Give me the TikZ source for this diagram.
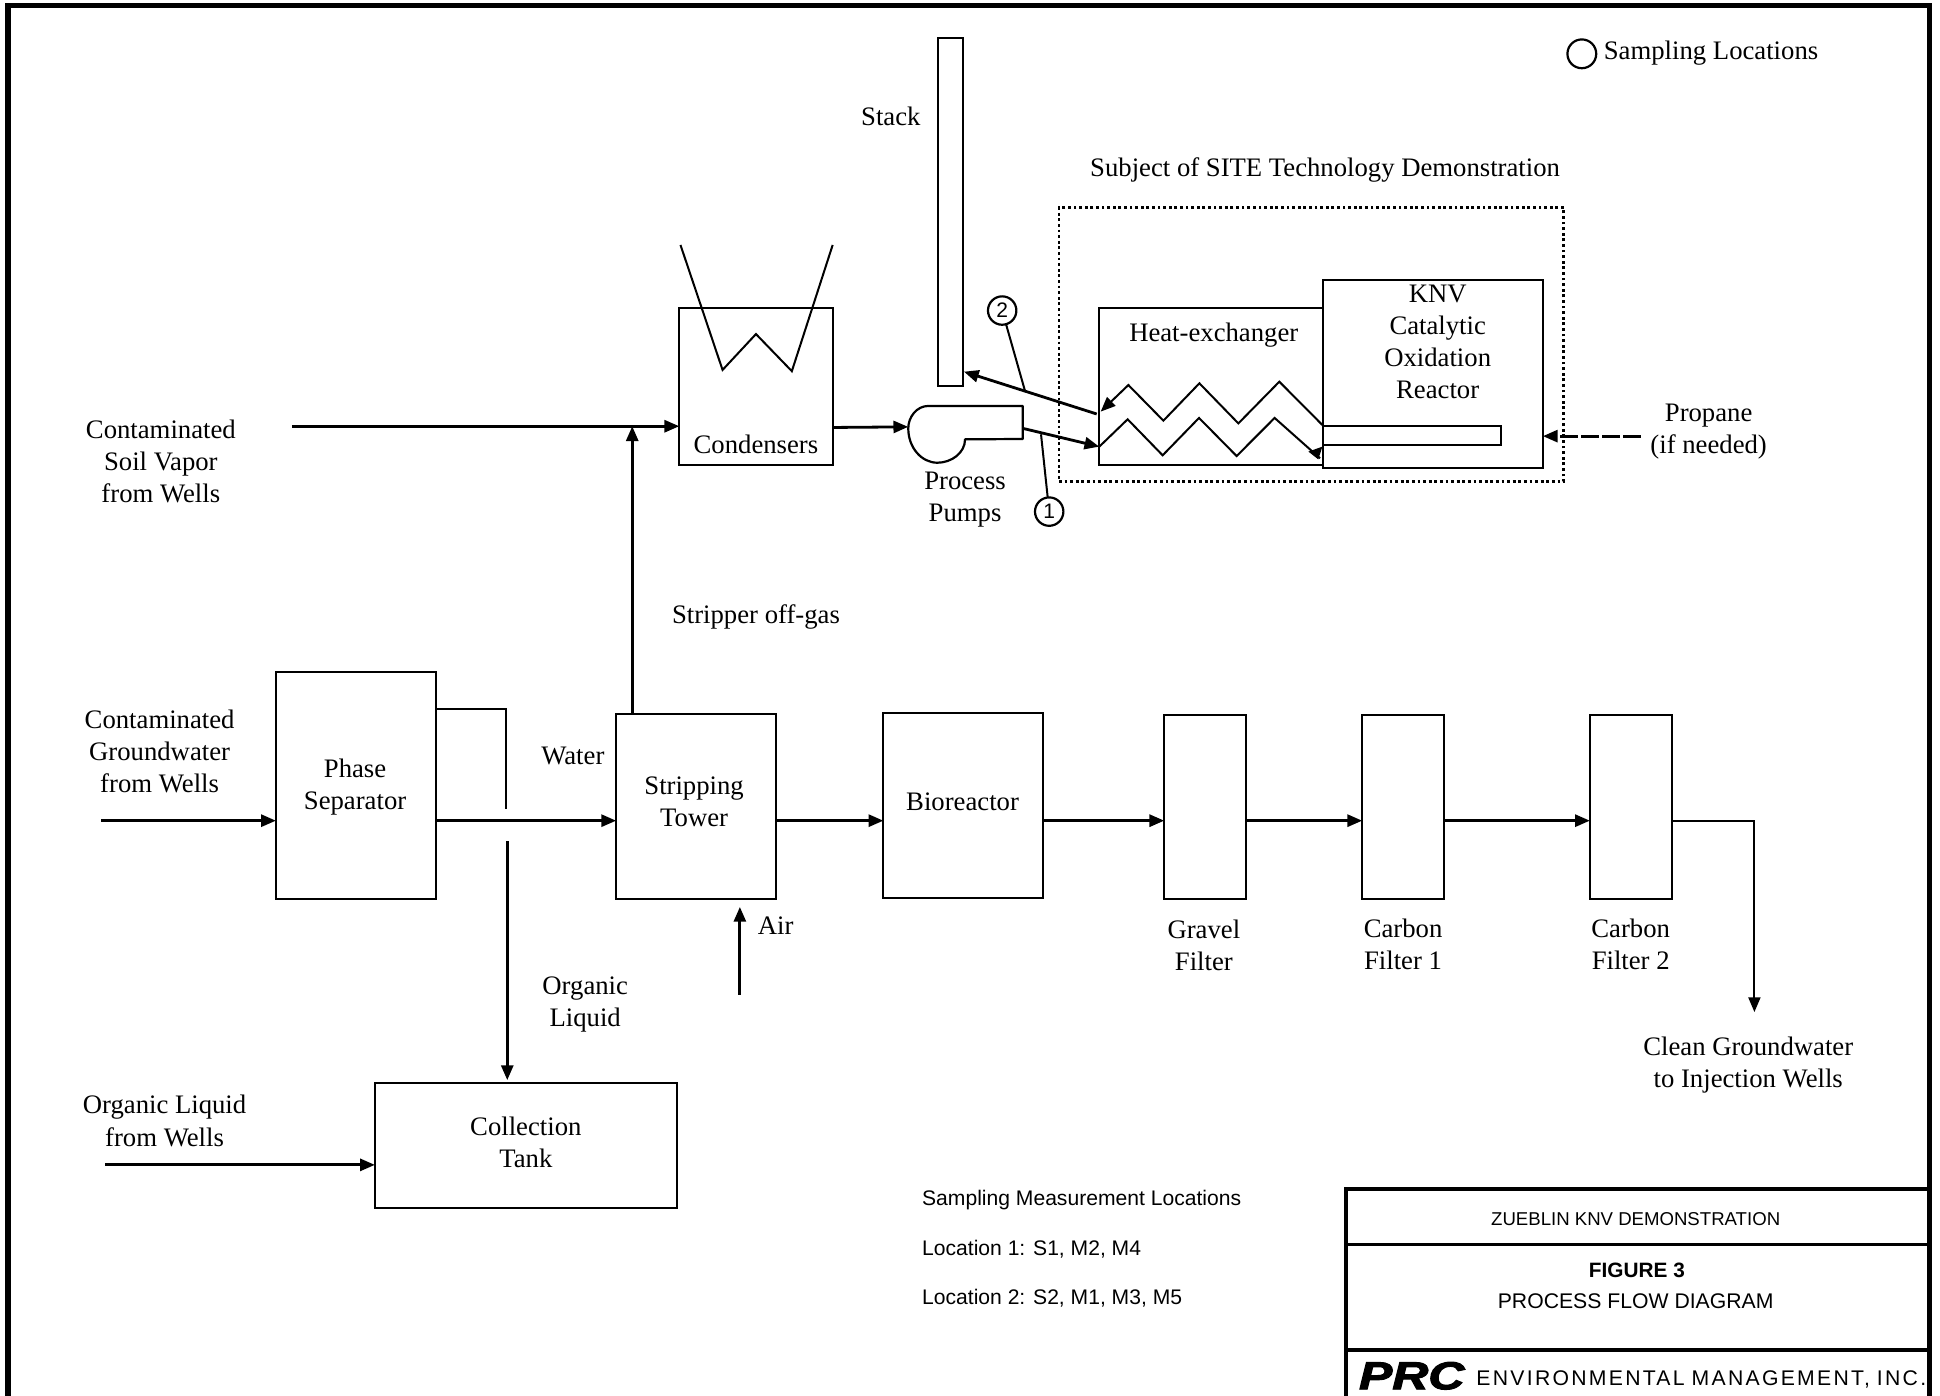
\documentclass[tikz,border=0pt]{standalone}
\usepackage{fontspec}
\setmainfont{Liberation Serif}
\setsansfont{Liberation Sans}
\newfontfamily\prcfont[FakeBold=2.5]{Liberation Sans}
\usetikzlibrary{arrows.meta,fit}
\tikzset{
  x=0.6186pt,y=-0.6186pt,
  boxn/.style={draw,line width=1pt,inner sep=0pt,outer sep=0pt,rectangle},
  lbl/.style={inner sep=0pt,align=center,font=\fontsize{13.35}{16.08}\selectfont},
  sfl/.style={inner sep=0pt,anchor=west,font=\sffamily\fontsize{10.55}{12}\selectfont},
  ttl/.style={inner sep=0pt,font=\sffamily\fontsize{9.3}{12}\selectfont},
  flow/.style={line width=1.4pt,-{Triangle[length=7.4pt,width=6pt]}},
  thinflow/.style={line width=1pt,-{Triangle[length=7.4pt,width=6pt]}},
  wire/.style={line width=1pt},
  coil/.style={line width=1pt,line join=miter},
  tag/.style={draw,circle,line width=1.1pt,minimum size=14.2pt,inner sep=0pt,outer sep=0pt,font=\sffamily\fontsize{10.5}{12}\selectfont},
  frameline/.style={line width=2.6pt}
}
\begin{document}
\begin{tikzpicture}
\useasboundingbox (0,0) rectangle (1568,1128);
% frame
\coordinate (fTL) at (6.5,4.5);
\coordinate (fTR) at (1559.5,4.5);
\coordinate (fBL) at (6.5,1135);
\coordinate (fBR) at (1559.5,1135);
\draw[frameline] (fBL) -- (fTL) -- (fTR) -- (fBR);
% title block
\coordinate (tTL) at (1088,961);
\coordinate (tBL) at (1088,1135);
\coordinate (tR) at (1559,961);
\draw[line width=2.2pt] (tBL) -- (tTL) -- (tR);
\coordinate (t2L) at (1088,1006);\coordinate (t2R) at (1559,1006);
\coordinate (t3L) at (1088,1091);\coordinate (t3R) at (1559,1091);
\draw[line width=1.7pt] (t2L) -- (t2R);
\draw[line width=1.7pt] (t3L) -- (t3R);
\node[ttl] (zd) at (1322,985) {ZUEBLIN KNV DEMONSTRATION};
\node[ttl,font=\sffamily\bfseries\fontsize{10.4}{12}\selectfont] (fig) at (1323,1027) {FIGURE 3};
\node[ttl,font=\sffamily\fontsize{10.6}{12}\selectfont] (pfd) at (1322,1052) {PROCESS FLOW DIAGRAM};
\node[inner sep=0pt,anchor=west,font=\sffamily\fontsize{10.6}{12}\selectfont,text width=230pt,align=left] (emi) at (1193,1115) {\addfontfeature{LetterSpace=10.7}ENVIRONMENTAL MANAGEMENT, INC.};
\node[inner sep=0pt] (prc) at (1141,1112) {\scalebox{1.28}[1]{\prcfont\bfseries\itshape\fontsize{19.5}{20}\selectfont PRC}};
% boxes
\node[boxn,fit={(758,31)(778,312)}] (stack) {};
\node[boxn,fit={(549,249)(673,376)}] (cond) {};
\node[boxn,fit={(888,249)(1069,376)}] (hx) {};
\node[boxn,line width=1.1pt,fit={(1069,226)(1247,378)}] (knv) {};
\node[boxn,fit={(1069,344)(1213,360)}] (burner) {};
\node[boxn,fit={(223,543)(352,727)}] (sep) {};
\node[boxn,fit={(498,577)(627,727)}] (tower) {};
\node[boxn,fit={(714,576)(843,726)}] (bio) {};
\node[boxn,fit={(941,578)(1007,727)}] (gravel) {};
\node[boxn,fit={(1101,578)(1167,727)}] (c1) {};
\node[boxn,fit={(1285,578)(1351,727)}] (c2) {};
\node[boxn,fit={(303,875)(547,976)}] (tank) {};
\node[draw,inner sep=0pt,outer sep=0pt,line width=1.4pt,dash pattern=on 1.4pt off 1.4pt,fit={(856,168)(1264,389)}] (site) {};
% condenser coil
\draw[wire] (550,198) -- (584,299) -- (611,270) -- (640,300) -- (673,198);
% pump
\coordinate (pOut) at (826.6,346.2);
\coordinate (pIn) at (734.1,345);
\draw[line width=1.1pt,line join=round] (826.6,354.8) -- (826.6,328.1) -- (750.3,328.1)
  .. controls (741,328.1) and (734.1,337) .. (734.1,346.2)
  .. controls (734.1,362) and (745,374) .. (757.6,374)
  .. controls (769,374) and (780,366) .. (780,355.1) -- cycle;
% coils
\coordinate (u0) at (1068.8,343.5);
\coordinate (u6) at (889.6,332.7);
\draw[coil,-{Triangle[length=7.4pt,width=6pt]}] (u0) -- (1034,308.5) -- (1000.9,342.2) -- (969.4,309.8) -- (940.3,340) -- (912,311.2) -- (u6);
\coordinate (l0) at (888.5,361);
\draw[coil] (l0) -- (911.4,338.9) -- (939.7,368) -- (969.1,337.8) -- (999.5,368.6) -- (1030.2,337.8) -- (1066.9,370.4);
\fill (1057.5,365) -- (1068.8,361) -- (1065.5,371.3) -- cycle;
% flows
\coordinate (svIn) at (236,344.5);
\coordinate (gwIn) at (82,663.3);
\coordinate (olIn) at (85,941.5);
\coordinate (airIn) at (598,804);
\coordinate (airOut) at (598,733);
\coordinate (prIn) at (1326,352.5);
\coordinate (hxOut) at (886.4,334.6);
\coordinate (stIn) at (779.1,300.4);
\coordinate (outEnd) at (1418,818);
\coordinate (outTurn) at (1418,663.3);
\coordinate (oTop) at (409,573);
\coordinate (oStop) at (409,654);
\coordinate (oStart) at (410,680);
\coordinate (oEnd) at (410,873);
\draw[flow] (svIn) -- (cond.west |- svIn);
\draw[flow] (tower.north -| 511,0) -- (511,344.5);
\draw[flow] (cond.east |- 0,345.5) -- (pIn);
\draw[flow] (hxOut) -- (stIn);
\draw[flow] (pOut) -- (l0);
\draw[flow,dash pattern=on 9pt off 1.5pt on 9pt off 1.5pt on 9pt off 1.5pt] (prIn) -- (knv.east |- prIn);
\draw[flow] (gwIn) -- (sep.west |- gwIn);
\draw[flow] (sep.east |- gwIn) -- (tower.west |- gwIn);
\draw[flow] (tower.east |- gwIn) -- (bio.west |- gwIn);
\draw[flow] (bio.east |- gwIn) -- (gravel.west |- gwIn);
\draw[flow] (gravel.east |- gwIn) -- (c1.west |- gwIn);
\draw[flow] (c1.east |- gwIn) -- (c2.west |- gwIn);
\draw[thinflow] (c2.east |- outTurn) -- (outTurn) -- (outEnd);
\draw[wire] (sep.east |- oTop) -- (oTop) -- (oStop);
\draw[flow] (oStart) -- (oEnd);
\draw[flow] (airIn) -- (airOut);
\draw[flow] (olIn) -- (tank.west |- olIn);
% sampling tags
\node[tag] (t2) at (810,251) {2};
\node[tag] (t1) at (848,413.5) {1};
\coordinate (t2hit) at (828.4,315.8);
\coordinate (t1hit) at (841.4,351);
\draw[line width=1pt] (t2) -- (t2hit);
\draw[line width=1pt] (t1) -- (t1hit);
\node[draw,circle,line width=1.1pt,minimum size=14.4pt,inner sep=0pt] (legend) at (1278.5,43.5) {};
% labels
\node[lbl,anchor=west] (sl) at (1296,43) {Sampling Locations};
\node[lbl] at (720,94) (lstack) {Stack};
\node[lbl] at (1071,137) (lsite) {Subject of SITE Technology Demonstration};
\node[lbl] at (981,271) (lhx) {Heat-exchanger};
\node[lbl] at (1162,276.5) (lknv) {KNV\\Catalytic\\Oxidation\\Reactor};
\node[lbl] at (611,359) (lcond) {Condensers};
\node[lbl] at (780,404) (lpump) {Process\\Pumps};
\node[lbl] at (1381,349) (lprop) {Propane\\(if needed)};
\node[lbl] at (130,373) (lsv) {Contaminated\\Soil Vapor\\from Wells};
\node[lbl] at (129,607.5) (lgw) {Contaminated\\Groundwater\\from Wells};
\node[lbl] at (611,499) (loff) {Stripper off-gas};
\node[lbl] at (287,636) (lsep) {Phase\\Separator};
\node[lbl] at (463,611) (lwater) {Water};
\node[lbl] at (561,648) (ltower) {Stripping\\Tower};
\node[lbl] at (778,648) (lbio) {Bioreactor};
\node[lbl] at (973,764) (lgr) {Gravel\\Filter};
\node[lbl] at (1134,763) (lc1) {Carbon\\Filter 1};
\node[lbl] at (1318,763) (lc2) {Carbon\\Filter 2};
\node[lbl] at (1413,861) (lclean) {Clean Groundwater\\to Injection Wells};
\node[lbl] at (627,748) (lair) {Air};
\node[lbl] at (473,812) (lorg) {Organic\\Liquid};
\node[lbl] at (133,906) (lolw) {Organic Liquid\\from Wells};
\node[lbl] at (425,923) (ltank) {Collection\\Tank};
\node[sfl] at (745,970) (m0) {Sampling Measurement Locations};
\node[sfl] at (745,1010) (m1) {Location 1: S1, M2, M4};
\node[sfl] at (745,1049) (m2) {Location 2: S2, M1, M3, M5};
\end{tikzpicture}
\end{document}
